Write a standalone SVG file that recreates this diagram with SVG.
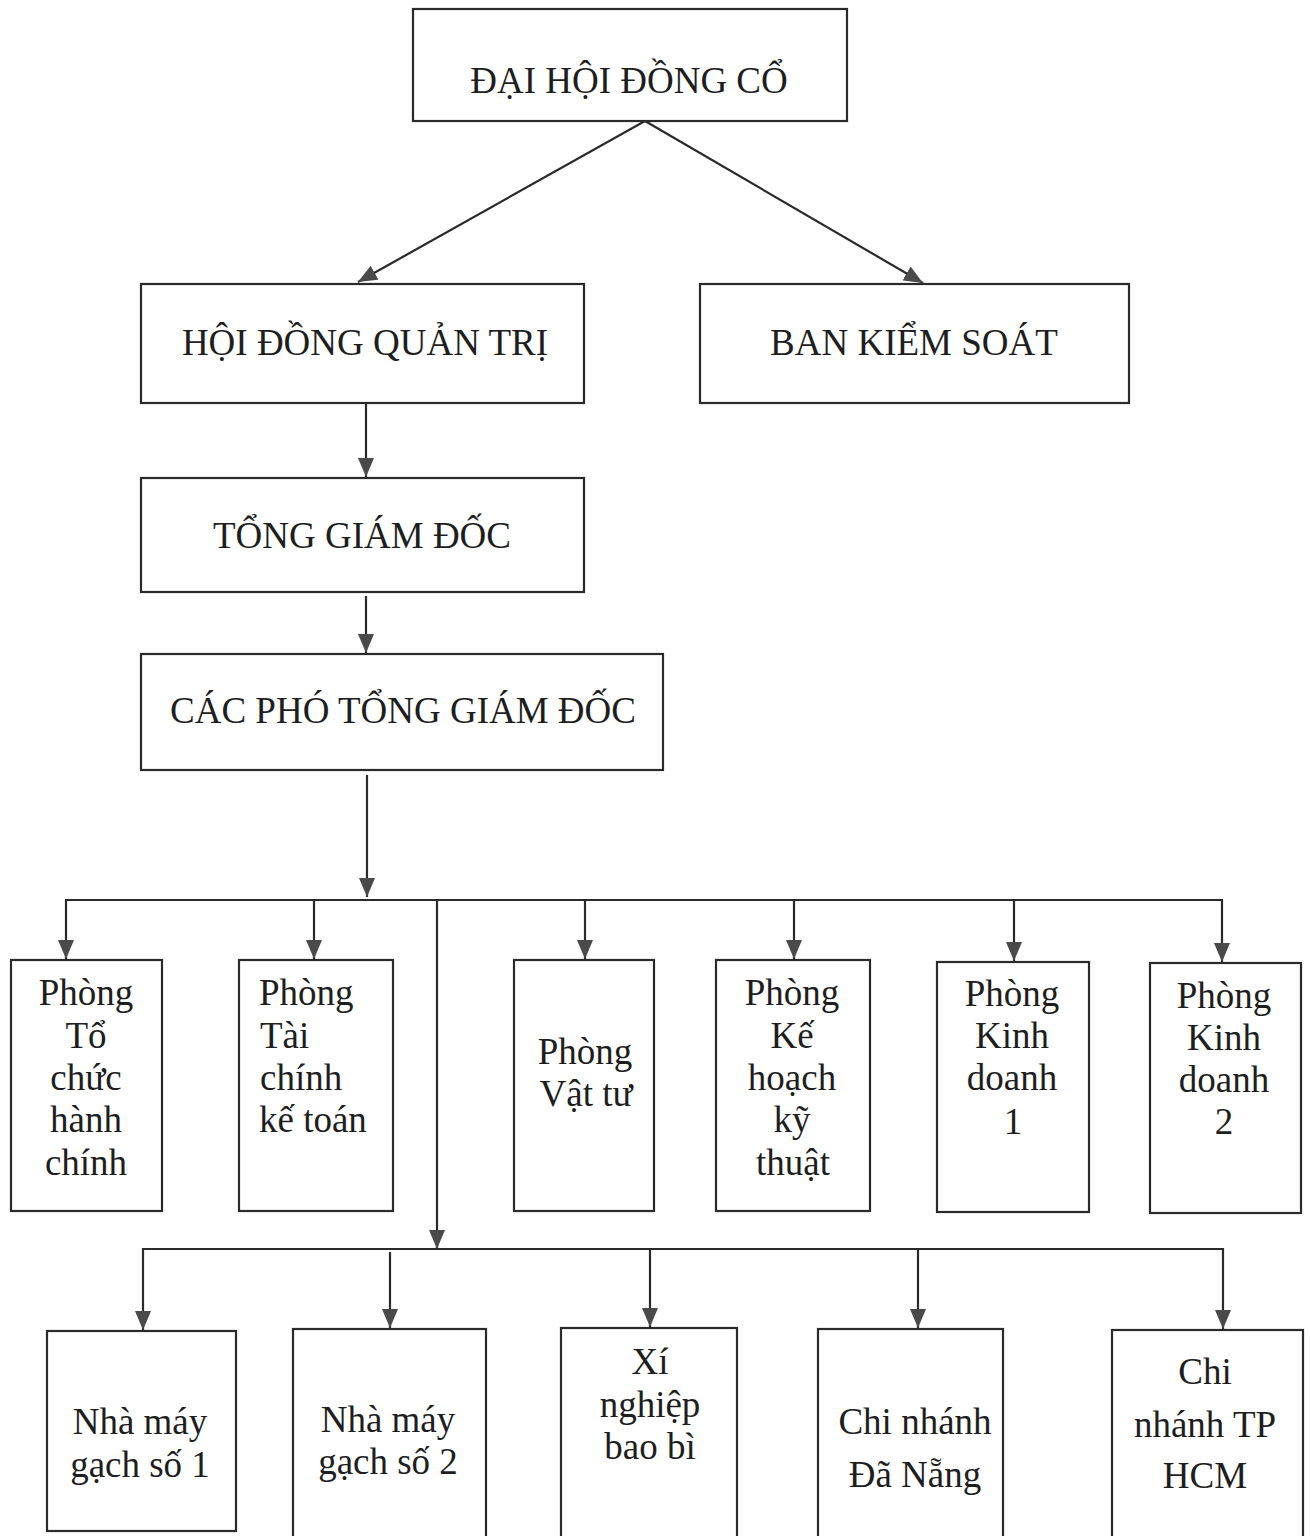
<svg xmlns="http://www.w3.org/2000/svg" width="1310" height="1536" viewBox="0 0 1310 1536">
<style>
.box{fill:#fff;stroke:#2a2a2a;stroke-width:2.2}
.t{font-family:"Liberation Serif","Times New Roman",serif;font-size:37px;fill:#1e1e1e;text-anchor:middle}
.tl{font-family:"Liberation Serif","Times New Roman",serif;font-size:37px;fill:#1e1e1e;text-anchor:start}
.ln{fill:none;stroke:#2a2a2a;stroke-width:2.2}
</style>
<defs>
<marker id="ah" markerUnits="userSpaceOnUse" viewBox="0 0 19 16" refX="19" refY="8" markerWidth="19" markerHeight="16" orient="auto">
<path d="M0,0 L19,8 L0,16 z" fill="#4a4a4a"/>
</marker>
</defs>
<rect width="1310" height="1536" fill="#fff"/>
<g id="connectors">
<line class="ln" x1="645" y1="121" x2="358" y2="282" marker-end="url(#ah)"/>
<line class="ln" x1="645" y1="121" x2="923" y2="283" marker-end="url(#ah)"/>
<line class="ln" x1="366" y1="403" x2="366" y2="477" marker-end="url(#ah)"/>
<line class="ln" x1="366" y1="596" x2="366" y2="653" marker-end="url(#ah)"/>
<line class="ln" x1="367" y1="775" x2="367" y2="897" marker-end="url(#ah)"/>
<line class="ln" x1="66" y1="900" x2="1222" y2="900"/>
<line class="ln" x1="66" y1="899" x2="66" y2="959" marker-end="url(#ah)"/>
<line class="ln" x1="314" y1="900" x2="314" y2="959" marker-end="url(#ah)"/>
<line class="ln" x1="585" y1="900" x2="585" y2="959" marker-end="url(#ah)"/>
<line class="ln" x1="794" y1="900" x2="794" y2="959" marker-end="url(#ah)"/>
<line class="ln" x1="1014" y1="900" x2="1014" y2="961" marker-end="url(#ah)"/>
<line class="ln" x1="1222" y1="899" x2="1222" y2="962" marker-end="url(#ah)"/>
<line class="ln" x1="437" y1="900" x2="437" y2="1249" marker-end="url(#ah)"/>
<line class="ln" x1="143" y1="1249" x2="1223" y2="1249"/>
<line class="ln" x1="143" y1="1248" x2="143" y2="1330" marker-end="url(#ah)"/>
<line class="ln" x1="390" y1="1252" x2="390" y2="1328" marker-end="url(#ah)"/>
<line class="ln" x1="650" y1="1249" x2="650" y2="1327" marker-end="url(#ah)"/>
<line class="ln" x1="918" y1="1249" x2="918" y2="1328" marker-end="url(#ah)"/>
<line class="ln" x1="1223" y1="1248" x2="1223" y2="1329" marker-end="url(#ah)"/>
</g>
<g id="dai-hoi-dong-co">
<rect class="box" x="413" y="9" width="434" height="112"/>
<text class="t" x="629" y="93">ĐẠI HỘI ĐỒNG CỔ</text>
</g>
<g id="hoi-dong-quan-tri">
<rect class="box" x="141" y="284" width="443" height="119"/>
<text class="t" x="365" y="355">HỘI ĐỒNG QUẢN TRỊ</text>
</g>
<g id="ban-kiem-soat">
<rect class="box" x="700" y="284" width="429" height="119"/>
<text class="t" x="914" y="355">BAN KIỂM SOÁT</text>
</g>
<g id="tong-giam-doc">
<rect class="box" x="141" y="478" width="443" height="114"/>
<text class="t" x="362" y="548">TỔNG GIÁM ĐỐC</text>
</g>
<g id="cac-pho-tong-giam-doc">
<rect class="box" x="141" y="654" width="522" height="116"/>
<text class="t" x="403" y="723">CÁC PHÓ TỔNG GIÁM ĐỐC</text>
</g>
<g id="phong-to-chuc">
<rect class="box" x="11" y="960" width="151" height="251"/>
<text class="t" x="86" y="1005">Phòng</text>
<text class="t" x="86" y="1048">Tổ</text>
<text class="t" x="86" y="1090">chức</text>
<text class="t" x="86" y="1132">hành</text>
<text class="t" x="86" y="1175">chính</text>
</g>
<g id="phong-tai-chinh">
<rect class="box" x="239" y="960" width="154" height="251"/>
<text class="tl" x="259" y="1005">Phòng</text>
<text class="tl" x="260" y="1048">Tài</text>
<text class="tl" x="260" y="1090">chính</text>
<text class="tl" x="259" y="1132">kế toán</text>
</g>
<g id="phong-vat-tu">
<rect class="box" x="514" y="960" width="140" height="251"/>
<text class="t" x="585" y="1064">Phòng</text>
<text class="t" x="586" y="1106">Vật tư</text>
</g>
<g id="phong-ke-hoach">
<rect class="box" x="716" y="960" width="154" height="251"/>
<text class="t" x="792" y="1005">Phòng</text>
<text class="t" x="792" y="1048">Kế</text>
<text class="t" x="792" y="1090">hoạch</text>
<text class="t" x="792" y="1132">kỹ</text>
<text class="t" x="793" y="1175">thuật</text>
</g>
<g id="phong-kinh-doanh-1">
<rect class="box" x="937" y="962" width="152" height="250"/>
<text class="t" x="1012" y="1006">Phòng</text>
<text class="t" x="1012" y="1048">Kinh</text>
<text class="t" x="1012" y="1090">doanh</text>
<text class="t" x="1013" y="1134">1</text>
</g>
<g id="phong-kinh-doanh-2">
<rect class="box" x="1150" y="963" width="151" height="250"/>
<text class="t" x="1224" y="1008">Phòng</text>
<text class="t" x="1224" y="1050">Kinh</text>
<text class="t" x="1224" y="1092">doanh</text>
<text class="t" x="1224" y="1134">2</text>
</g>
<g id="nha-may-1">
<rect class="box" x="47" y="1331" width="189" height="200"/>
<text class="t" x="140" y="1434">Nhà máy</text>
<text class="t" x="140" y="1477">gạch số 1</text>
</g>
<g id="nha-may-2">
<rect class="box" x="293" y="1329" width="193" height="220"/>
<text class="t" x="388" y="1432">Nhà máy</text>
<text class="t" x="388" y="1474">gạch số 2</text>
</g>
<g id="xi-nghiep-bao-bi">
<rect class="box" x="561" y="1328" width="176" height="220"/>
<text class="t" x="650" y="1374">Xí</text>
<text class="t" x="650" y="1417">nghiệp</text>
<text class="t" x="650" y="1459">bao bì</text>
</g>
<g id="chi-nhanh-da-nang">
<rect class="box" x="818" y="1329" width="185" height="220"/>
<text class="t" x="915" y="1434">Chi nhánh</text>
<text class="t" x="915" y="1487">Đã Nẵng</text>
</g>
<g id="chi-nhanh-hcm">
<rect class="box" x="1112" y="1330" width="191" height="220"/>
<text class="t" x="1205" y="1384">Chi</text>
<text class="t" x="1205" y="1437">nhánh TP</text>
<text class="t" x="1205" y="1488">HCM</text>
</g>
</svg>
